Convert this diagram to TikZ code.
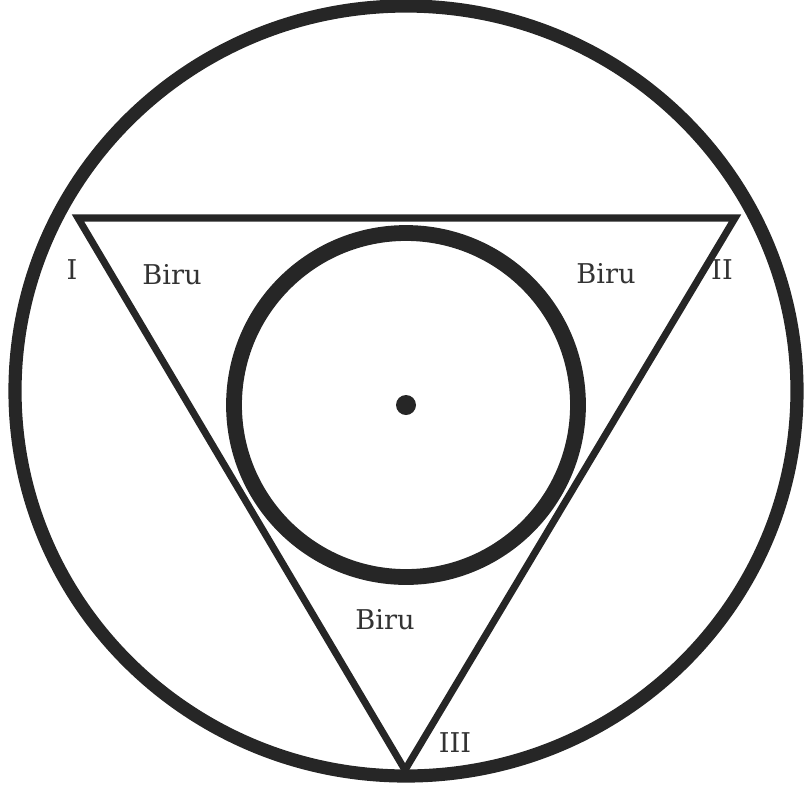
\documentclass[tikz,border=0pt]{standalone}
\usepackage{fontspec}
\setmainfont{DejaVu Serif}
\begin{document}
\begin{tikzpicture}[x=0.02cm, y=-0.02cm, tag/.style={anchor=center, inner sep=0pt, font=\fontsize{15.5}{18}\selectfont, text=black!80}]
	% Frame:
	\useasboundingbox (0, 0) rectangle (805, 789);
	% Circles and triangle:
	\coordinate (C) at (406, 405);
	\draw[line width=7.5pt, black!85] (406, 391) ellipse [x radius=391, y radius=385];
	\coordinate (V1) at (78, 218);
	\coordinate (V2) at (735, 218);
	\coordinate (V3) at (405, 770);
	\draw[line width=4pt, black!85, line join=miter] (V1) -- (V2) -- (V3) -- cycle;
	\draw[line width=9pt, black!85] (C) circle [radius=172];
	\fill[black!85] (C) circle [radius=10];
	% Labels:
	\node[tag] (N1) at (72, 270){I};
	\node[tag] (N2) at (722, 270){II};
	\node[tag] (N3) at (455, 743){III};
	\node[tag] (B1) at (172, 275){Biru};
	\node[tag] (B2) at (606, 274){Biru};
	\node[tag] (B3) at (385, 620){Biru};
\end{tikzpicture}
\end{document}
